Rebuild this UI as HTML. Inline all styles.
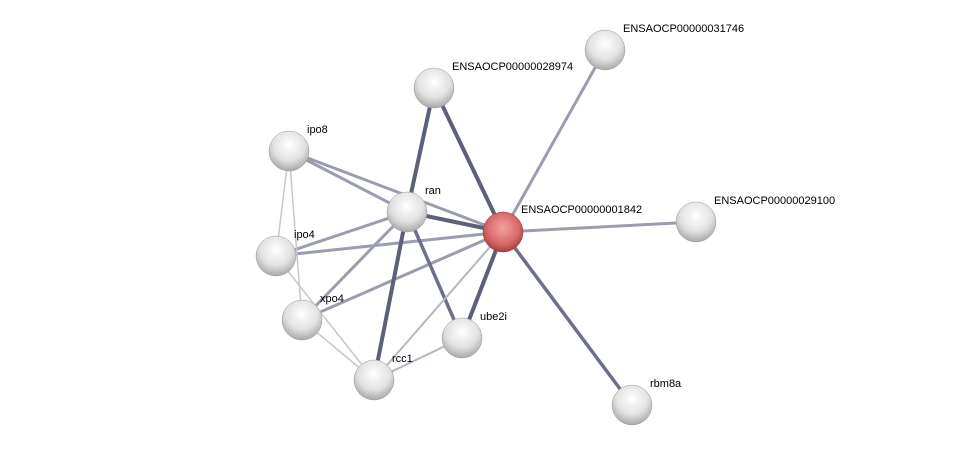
<!DOCTYPE html>
<html><head><style>body{margin:0;background:#fff}svg{display:block}text{font-family:"Liberation Sans",sans-serif;font-size:11px;fill:#000}</style></head><body>
<svg width="976" height="451" viewBox="0 0 976 451">
<defs>
<radialGradient id="g" cx="50%" cy="35%" r="65%"><stop offset="0" stop-color="#fff"/><stop offset="0.6" stop-color="#e2e2e2"/><stop offset="1" stop-color="#a8a8a8"/></radialGradient>
<radialGradient id="r" cx="50%" cy="40%" r="65%"><stop offset="0" stop-color="#f4a0a0"/><stop offset="0.6" stop-color="#d86a6a"/><stop offset="1" stop-color="#9e3535"/></radialGradient>
</defs>
<g stroke-linecap="round">
<g stroke="#9a9dae" stroke-width="3">
<line x1="503" y1="232" x2="605" y2="50"/>
<line x1="503" y1="232" x2="696" y2="222"/>
<line x1="503" y1="232" x2="289" y2="151"/>
<line x1="503" y1="232" x2="276" y2="256"/>
<line x1="503" y1="232" x2="302" y2="320"/>
<line x1="407" y1="212" x2="289" y2="151"/>
<line x1="407" y1="212" x2="276" y2="256"/>
<line x1="407" y1="212" x2="302" y2="320"/>
</g>
<g stroke="#6c7088" stroke-width="3.5">
<line x1="503" y1="232" x2="632" y2="405"/>
<line x1="407" y1="212" x2="462" y2="338"/>
</g>
<g stroke="#5c6078" stroke-width="4">
<line x1="503" y1="232" x2="434" y2="88"/>
<line x1="407" y1="212" x2="434" y2="88"/>
<line x1="503" y1="232" x2="407" y2="212"/>
<line x1="503" y1="232" x2="462" y2="338"/>
<line x1="407" y1="212" x2="374" y2="380"/>
</g>
<g stroke="#b4b6c4" stroke-width="2">
<line x1="503" y1="232" x2="374" y2="380"/>
<line x1="462" y1="338" x2="374" y2="380"/>
</g>
<g stroke="#c8c8c8" stroke-width="1.5">
<line x1="289" y1="151" x2="276" y2="256"/>
<line x1="289" y1="151" x2="302" y2="320"/>
<line x1="276" y1="256" x2="374" y2="380"/>
<line x1="302" y1="320" x2="374" y2="380"/>
</g>
</g>
<g stroke="#999" stroke-width="0.5">
<circle cx="605" cy="50" r="20" fill="url(#g)"/>
<circle cx="434" cy="88" r="20" fill="url(#g)"/>
<circle cx="289" cy="151" r="20" fill="url(#g)"/>
<circle cx="407" cy="212" r="20" fill="url(#g)"/>
<circle cx="696" cy="222" r="20" fill="url(#g)"/>
<circle cx="276" cy="256" r="20" fill="url(#g)"/>
<circle cx="302" cy="320" r="20" fill="url(#g)"/>
<circle cx="462" cy="338" r="20" fill="url(#g)"/>
<circle cx="374" cy="380" r="20" fill="url(#g)"/>
<circle cx="632" cy="405" r="20" fill="url(#g)"/>
<circle cx="503" cy="232" r="20" fill="url(#r)" stroke="#933"/>
</g>
<text x="623" y="32">ENSAOCP00000031746</text>
<text x="452" y="70">ENSAOCP00000028974</text>
<text x="307" y="133">ipo8</text>
<text x="425" y="194">ran</text>
<text x="521" y="213">ENSAOCP00000001842</text>
<text x="714" y="204">ENSAOCP00000029100</text>
<text x="294" y="238">ipo4</text>
<text x="320" y="302">xpo4</text>
<text x="480" y="320">ube2i</text>
<text x="392" y="362">rcc1</text>
<text x="650" y="387">rbm8a</text>
</svg>
</body></html>
